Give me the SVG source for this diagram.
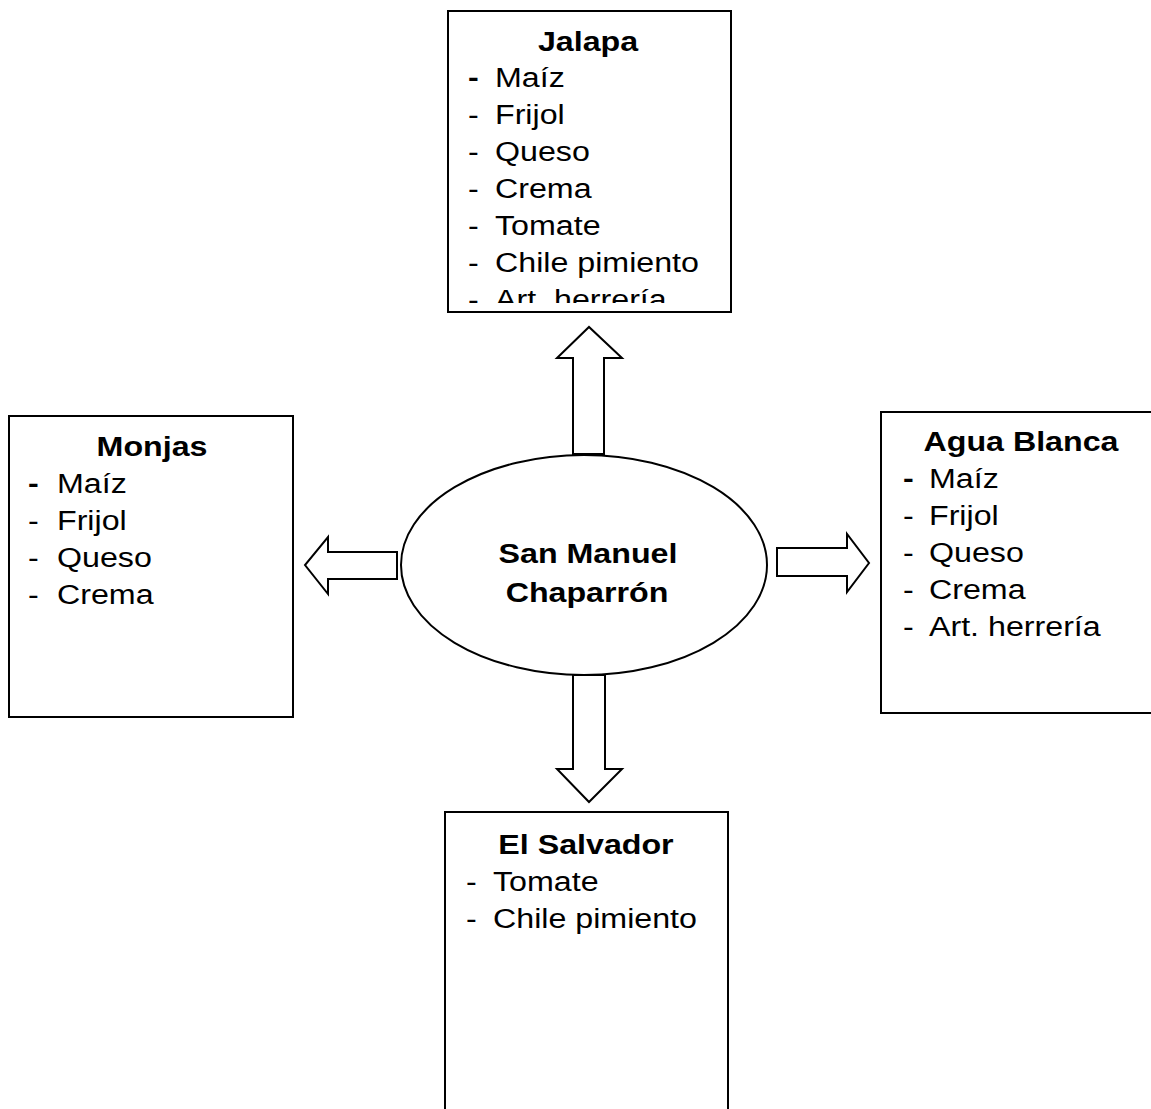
<svg xmlns="http://www.w3.org/2000/svg" width="1151" height="1109" viewBox="0 0 1151 1109">
<style>
.box{fill:#fff;stroke:#000;stroke-width:2}
.arr{fill:#fff;stroke:#000;stroke-width:2;stroke-linejoin:miter}
text{font-family:"Liberation Sans",Arial,sans-serif;font-size:28px;fill:#000}
.t{font-weight:bold;text-anchor:middle}
.b{font-weight:bold}
</style>
<defs>
<clipPath id="clipJ"><rect x="448" y="11" width="283" height="292"/></clipPath>
</defs>
<rect width="1151" height="1109" fill="#fff"/>
<g id="connectors">
<path class="arr" d="M573,454 L573,358 L557,358 L589,327 L622,358 L604,358 L604,454 Z"/>
<path class="arr" d="M397,552 L328,552 L328,537 L305,565 L328,594 L328,579 L397,579 Z"/>
<path class="arr" d="M777,548 L847,548 L847,534 L869,563 L847,592 L847,576 L777,576 Z"/>
<path class="arr" d="M573,675 L605,675 L605,769 L622,769 L589,802 L557,769 L573,769 Z"/>
</g>
<g id="center">
<ellipse class="box" cx="584" cy="565" rx="183" ry="110"/>
<text class="t" transform="translate(588,563) scale(1.15,1)">San Manuel</text>
<text class="t" transform="translate(587,602) scale(1.15,1)">Chaparrón</text>
</g>
<g id="jalapa">
<rect class="box" x="448" y="11" width="283" height="301"/>
<g clip-path="url(#clipJ)">
<text class="t" transform="translate(588,51) scale(1.15,1)">Jalapa</text>
<text class="b" transform="translate(468,87) scale(1.15,1)">-</text><text transform="translate(495,87) scale(1.15,1)">Maíz</text>
<text transform="translate(468,124) scale(1.15,1)">-</text><text transform="translate(495,124) scale(1.15,1)">Frijol</text>
<text transform="translate(468,161) scale(1.15,1)">-</text><text transform="translate(495,161) scale(1.15,1)">Queso</text>
<text transform="translate(468,198) scale(1.15,1)">-</text><text transform="translate(495,198) scale(1.15,1)">Crema</text>
<text transform="translate(468,235) scale(1.15,1)">-</text><text transform="translate(495,235) scale(1.15,1)">Tomate</text>
<text transform="translate(468,272) scale(1.15,1)">-</text><text transform="translate(495,272) scale(1.15,1)">Chile pimiento</text>
<text transform="translate(468,309) scale(1.15,1)">-</text><text transform="translate(495,309) scale(1.15,1)">Art. herrería</text>
</g>
</g>
<g id="monjas">
<rect class="box" x="9" y="416" width="284" height="301"/>
<text class="t" transform="translate(152,456) scale(1.15,1)">Monjas</text>
<text class="b" transform="translate(28,493) scale(1.15,1)">-</text><text transform="translate(57,493) scale(1.15,1)">Maíz</text>
<text transform="translate(28,530) scale(1.15,1)">-</text><text transform="translate(57,530) scale(1.15,1)">Frijol</text>
<text transform="translate(28,567) scale(1.15,1)">-</text><text transform="translate(57,567) scale(1.15,1)">Queso</text>
<text transform="translate(28,604) scale(1.15,1)">-</text><text transform="translate(57,604) scale(1.15,1)">Crema</text>
</g>
<g id="agua-blanca">
<rect class="box" x="881" y="412" width="290" height="301"/>
<text class="t" transform="translate(1021,451) scale(1.15,1)">Agua Blanca</text>
<text class="b" transform="translate(903,488) scale(1.15,1)">-</text><text transform="translate(929,488) scale(1.15,1)">Maíz</text>
<text transform="translate(903,525) scale(1.15,1)">-</text><text transform="translate(929,525) scale(1.15,1)">Frijol</text>
<text transform="translate(903,562) scale(1.15,1)">-</text><text transform="translate(929,562) scale(1.15,1)">Queso</text>
<text transform="translate(903,599) scale(1.15,1)">-</text><text transform="translate(929,599) scale(1.15,1)">Crema</text>
<text transform="translate(903,636) scale(1.15,1)">-</text><text transform="translate(929,636) scale(1.15,1)">Art. herrería</text>
</g>
<g id="el-salvador">
<rect class="box" x="445" y="812" width="283" height="320"/>
<text class="t" transform="translate(586,854) scale(1.15,1)">El Salvador</text>
<text transform="translate(466,891) scale(1.15,1)">-</text><text transform="translate(493,891) scale(1.15,1)">Tomate</text>
<text transform="translate(466,928) scale(1.15,1)">-</text><text transform="translate(493,928) scale(1.15,1)">Chile pimiento</text>
</g>
</svg>
